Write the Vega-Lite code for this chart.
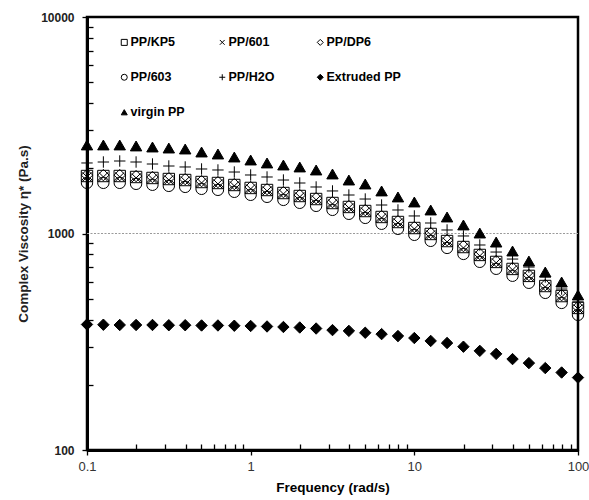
{
  "$schema": "https://vega.github.io/schema/vega-lite/v6.json",
  "width": 491,
  "height": 433,
  "autosize": {"type": "none"},
  "padding": {"left": 87, "top": 17, "right": 11, "bottom": 50},
  "background": "white",
  "config": {
    "view": {"stroke": "black", "strokeWidth": 2.5},
    "font": "Liberation Sans"
  },
  "layer": [
    {
      "data": {"values": [{"a": 0.1, "b": 100, "g": 1000}]},
      "mark": {"type": "rule", "color": "#9a9a9a", "strokeDash": [2, 1.5], "strokeWidth": 1.2},
      "encoding": {
        "x": {"field": "a", "type": "quantitative", "scale": {"type": "log", "domain": [0.1, 100]}},
        "x2": {"field": "b"},
        "y": {"field": "g", "type": "quantitative", "scale": {"type": "log", "domain": [100, 10000]}}
      }
    },
    {
      "data": {"values": [
        {"f":0.1,"s":"virgin PP","v":2564},{"f":0.1259,"s":"virgin PP","v":2564},{"f":0.1585,"s":"virgin PP","v":2564},{"f":0.1995,"s":"virgin PP","v":2537},{"f":0.2512,"s":"virgin PP","v":2509},{"f":0.3162,"s":"virgin PP","v":2482},{"f":0.3981,"s":"virgin PP","v":2456},{"f":0.5012,"s":"virgin PP","v":2379},{"f":0.631,"s":"virgin PP","v":2329},{"f":0.7943,"s":"virgin PP","v":2256},{"f":1,"s":"virgin PP","v":2185},{"f":1.259,"s":"virgin PP","v":2117},{"f":1.585,"s":"virgin PP","v":2072},{"f":1.995,"s":"virgin PP","v":2029},{"f":2.512,"s":"virgin PP","v":1965},{"f":3.162,"s":"virgin PP","v":1883},{"f":3.981,"s":"virgin PP","v":1766},{"f":5.012,"s":"virgin PP","v":1693},{"f":6.31,"s":"virgin PP","v":1572},{"f":7.943,"s":"virgin PP","v":1475},{"f":10,"s":"virgin PP","v":1398},{"f":12.59,"s":"virgin PP","v":1284},{"f":15.85,"s":"virgin PP","v":1192},{"f":19.95,"s":"virgin PP","v":1095},{"f":25.12,"s":"virgin PP","v":1005},{"f":31.62,"s":"virgin PP","v":913},{"f":39.81,"s":"virgin PP","v":830},{"f":50.12,"s":"virgin PP","v":746},{"f":63.1,"s":"virgin PP","v":664},{"f":79.43,"s":"virgin PP","v":597},{"f":100,"s":"virgin PP","v":520},
        {"f":0.1,"s":"PP/H2O","v":2117},{"f":0.1259,"s":"PP/H2O","v":2139},{"f":0.1585,"s":"PP/H2O","v":2162},{"f":0.1995,"s":"PP/H2O","v":2139},{"f":0.2512,"s":"PP/H2O","v":2094},{"f":0.3162,"s":"PP/H2O","v":2050},{"f":0.3981,"s":"PP/H2O","v":2029},{"f":0.5012,"s":"PP/H2O","v":1986},{"f":0.631,"s":"PP/H2O","v":1965},{"f":0.7943,"s":"PP/H2O","v":1923},{"f":1,"s":"PP/H2O","v":1863},{"f":1.259,"s":"PP/H2O","v":1824},{"f":1.585,"s":"PP/H2O","v":1766},{"f":1.995,"s":"PP/H2O","v":1711},{"f":2.512,"s":"PP/H2O","v":1640},{"f":3.162,"s":"PP/H2O","v":1572},{"f":3.981,"s":"PP/H2O","v":1506},{"f":5.012,"s":"PP/H2O","v":1443},{"f":6.31,"s":"PP/H2O","v":1354},{"f":7.943,"s":"PP/H2O","v":1284},{"f":10,"s":"PP/H2O","v":1205},{"f":12.59,"s":"PP/H2O","v":1118},{"f":15.85,"s":"PP/H2O","v":1038},{"f":19.95,"s":"PP/H2O","v":974},{"f":25.12,"s":"PP/H2O","v":885},{"f":31.62,"s":"PP/H2O","v":821},{"f":39.81,"s":"PP/H2O","v":762},{"f":50.12,"s":"PP/H2O","v":700},{"f":63.1,"s":"PP/H2O","v":630},{"f":79.43,"s":"PP/H2O","v":554},{"f":100,"s":"PP/H2O","v":483},
        {"f":0.1,"s":"PP/KP5","v":1843},{"f":0.1259,"s":"PP/KP5","v":1843},{"f":0.1585,"s":"PP/KP5","v":1843},{"f":0.1995,"s":"PP/KP5","v":1824},{"f":0.2512,"s":"PP/KP5","v":1805},{"f":0.3162,"s":"PP/KP5","v":1785},{"f":0.3981,"s":"PP/KP5","v":1766},{"f":0.5012,"s":"PP/KP5","v":1729},{"f":0.631,"s":"PP/KP5","v":1711},{"f":0.7943,"s":"PP/KP5","v":1675},{"f":1,"s":"PP/KP5","v":1623},{"f":1.259,"s":"PP/KP5","v":1588},{"f":1.585,"s":"PP/KP5","v":1538},{"f":1.995,"s":"PP/KP5","v":1490},{"f":2.512,"s":"PP/KP5","v":1443},{"f":3.162,"s":"PP/KP5","v":1383},{"f":3.981,"s":"PP/KP5","v":1326},{"f":5.012,"s":"PP/KP5","v":1270},{"f":6.31,"s":"PP/KP5","v":1192},{"f":7.943,"s":"PP/KP5","v":1130},{"f":10,"s":"PP/KP5","v":1060},{"f":12.59,"s":"PP/KP5","v":995},{"f":15.85,"s":"PP/KP5","v":923},{"f":19.95,"s":"PP/KP5","v":866},{"f":25.12,"s":"PP/KP5","v":796},{"f":31.62,"s":"PP/KP5","v":739},{"f":39.81,"s":"PP/KP5","v":686},{"f":50.12,"s":"PP/KP5","v":637},{"f":63.1,"s":"PP/KP5","v":572},{"f":79.43,"s":"PP/KP5","v":514},{"f":100,"s":"PP/KP5","v":453},
        {"f":0.1,"s":"PP/601","v":1825},{"f":0.1259,"s":"PP/601","v":1825},{"f":0.1585,"s":"PP/601","v":1825},{"f":0.1995,"s":"PP/601","v":1806},{"f":0.2512,"s":"PP/601","v":1787},{"f":0.3162,"s":"PP/601","v":1767},{"f":0.3981,"s":"PP/601","v":1748},{"f":0.5012,"s":"PP/601","v":1712},{"f":0.631,"s":"PP/601","v":1694},{"f":0.7943,"s":"PP/601","v":1658},{"f":1,"s":"PP/601","v":1607},{"f":1.259,"s":"PP/601","v":1572},{"f":1.585,"s":"PP/601","v":1523},{"f":1.995,"s":"PP/601","v":1475},{"f":2.512,"s":"PP/601","v":1429},{"f":3.162,"s":"PP/601","v":1369},{"f":3.981,"s":"PP/601","v":1313},{"f":5.012,"s":"PP/601","v":1257},{"f":6.31,"s":"PP/601","v":1180},{"f":7.943,"s":"PP/601","v":1119},{"f":10,"s":"PP/601","v":1049},{"f":12.59,"s":"PP/601","v":985},{"f":15.85,"s":"PP/601","v":914},{"f":19.95,"s":"PP/601","v":857},{"f":25.12,"s":"PP/601","v":788},{"f":31.62,"s":"PP/601","v":732},{"f":39.81,"s":"PP/601","v":679},{"f":50.12,"s":"PP/601","v":631},{"f":63.1,"s":"PP/601","v":566},{"f":79.43,"s":"PP/601","v":509},{"f":100,"s":"PP/601","v":448},
        {"f":0.1,"s":"PP/DP6","v":1861},{"f":0.1259,"s":"PP/DP6","v":1861},{"f":0.1585,"s":"PP/DP6","v":1861},{"f":0.1995,"s":"PP/DP6","v":1842},{"f":0.2512,"s":"PP/DP6","v":1823},{"f":0.3162,"s":"PP/DP6","v":1803},{"f":0.3981,"s":"PP/DP6","v":1784},{"f":0.5012,"s":"PP/DP6","v":1746},{"f":0.631,"s":"PP/DP6","v":1728},{"f":0.7943,"s":"PP/DP6","v":1692},{"f":1,"s":"PP/DP6","v":1639},{"f":1.259,"s":"PP/DP6","v":1604},{"f":1.585,"s":"PP/DP6","v":1553},{"f":1.995,"s":"PP/DP6","v":1505},{"f":2.512,"s":"PP/DP6","v":1457},{"f":3.162,"s":"PP/DP6","v":1397},{"f":3.981,"s":"PP/DP6","v":1339},{"f":5.012,"s":"PP/DP6","v":1283},{"f":6.31,"s":"PP/DP6","v":1204},{"f":7.943,"s":"PP/DP6","v":1141},{"f":10,"s":"PP/DP6","v":1071},{"f":12.59,"s":"PP/DP6","v":1005},{"f":15.85,"s":"PP/DP6","v":932},{"f":19.95,"s":"PP/DP6","v":875},{"f":25.12,"s":"PP/DP6","v":804},{"f":31.62,"s":"PP/DP6","v":746},{"f":39.81,"s":"PP/DP6","v":693},{"f":50.12,"s":"PP/DP6","v":643},{"f":63.1,"s":"PP/DP6","v":578},{"f":79.43,"s":"PP/DP6","v":519},{"f":100,"s":"PP/DP6","v":458},
        {"f":0.1,"s":"PP/603","v":1714},{"f":0.1259,"s":"PP/603","v":1714},{"f":0.1585,"s":"PP/603","v":1714},{"f":0.1995,"s":"PP/603","v":1696},{"f":0.2512,"s":"PP/603","v":1679},{"f":0.3162,"s":"PP/603","v":1660},{"f":0.3981,"s":"PP/603","v":1642},{"f":0.5012,"s":"PP/603","v":1608},{"f":0.631,"s":"PP/603","v":1591},{"f":0.7943,"s":"PP/603","v":1558},{"f":1,"s":"PP/603","v":1509},{"f":1.259,"s":"PP/603","v":1477},{"f":1.585,"s":"PP/603","v":1430},{"f":1.995,"s":"PP/603","v":1386},{"f":2.512,"s":"PP/603","v":1342},{"f":3.162,"s":"PP/603","v":1286},{"f":3.981,"s":"PP/603","v":1233},{"f":5.012,"s":"PP/603","v":1181},{"f":6.31,"s":"PP/603","v":1109},{"f":7.943,"s":"PP/603","v":1051},{"f":10,"s":"PP/603","v":986},{"f":12.59,"s":"PP/603","v":925},{"f":15.85,"s":"PP/603","v":858},{"f":19.95,"s":"PP/603","v":805},{"f":25.12,"s":"PP/603","v":740},{"f":31.62,"s":"PP/603","v":687},{"f":39.81,"s":"PP/603","v":638},{"f":50.12,"s":"PP/603","v":592},{"f":63.1,"s":"PP/603","v":532},{"f":79.43,"s":"PP/603","v":478},{"f":100,"s":"PP/603","v":421},
        {"f":0.1,"s":"Extruded PP","v":380},{"f":0.1259,"s":"Extruded PP","v":379},{"f":0.1585,"s":"Extruded PP","v":378},{"f":0.1995,"s":"Extruded PP","v":378},{"f":0.2512,"s":"Extruded PP","v":378},{"f":0.3162,"s":"Extruded PP","v":377},{"f":0.3981,"s":"Extruded PP","v":377},{"f":0.5012,"s":"Extruded PP","v":376},{"f":0.631,"s":"Extruded PP","v":376},{"f":0.7943,"s":"Extruded PP","v":375},{"f":1,"s":"Extruded PP","v":374},{"f":1.259,"s":"Extruded PP","v":372},{"f":1.585,"s":"Extruded PP","v":370},{"f":1.995,"s":"Extruded PP","v":368},{"f":2.512,"s":"Extruded PP","v":364},{"f":3.162,"s":"Extruded PP","v":358},{"f":3.981,"s":"Extruded PP","v":355},{"f":5.012,"s":"Extruded PP","v":348},{"f":6.31,"s":"Extruded PP","v":343},{"f":7.943,"s":"Extruded PP","v":336},{"f":10,"s":"Extruded PP","v":329},{"f":12.59,"s":"Extruded PP","v":319},{"f":15.85,"s":"Extruded PP","v":312},{"f":19.95,"s":"Extruded PP","v":300},{"f":25.12,"s":"Extruded PP","v":287},{"f":31.62,"s":"Extruded PP","v":278},{"f":39.81,"s":"Extruded PP","v":263},{"f":50.12,"s":"Extruded PP","v":252},{"f":63.1,"s":"Extruded PP","v":239},{"f":79.43,"s":"Extruded PP","v":228},{"f":100,"s":"Extruded PP","v":216}
      ]},
      "mark": {"type": "point", "filled": true, "opacity": 1, "strokeWidth": 1, "size": 130},
      "encoding": {
        "x": {"field": "f", "type": "quantitative", "scale": {"type": "log", "domain": [0.1, 100]},
          "axis": {"values": [0.1,0.2,0.3,0.4,0.5,0.6,0.7,0.8,0.9,1,2,3,4,5,6,7,8,9,10,20,30,40,50,60,70,80,90,100],
            "labelExpr": "(datum.value==0.1||datum.value==1||datum.value==10||datum.value==100) ? datum.label : ''",
            "format": "~g", "orient": "bottom", "labelFlush": false, "labelOverlap": false, "labelFontSize": 13, "labelColor": "#333", "labelPadding": 5,
            "tickSize": {"condition": {"test": "datum.value==0.1||datum.value==1||datum.value==10||datum.value==100", "value": 5}, "value": -6},
            "tickColor": "black", "tickWidth": 1.3, "domainColor": "black", "domainWidth": 3, "grid": false, "title": "Frequency (rad/s)", "titleFontSize": 13.5, "titleFontWeight": "bold", "titleColor": "black", "titlePadding": 7}},
        "y": {"field": "v", "type": "quantitative", "scale": {"type": "log", "domain": [100, 10000]},
          "axis": {"values": [100,200,300,400,500,600,700,800,900,1000,2000,3000,4000,5000,6000,7000,8000,9000,10000],
            "labelExpr": "(datum.value==100||datum.value==1000||datum.value==10000) ? datum.label : ''",
            "format": "d", "orient": "left", "labelOverlap": false, "labelFlush": false, "labelFontSize": 12, "labelFontWeight": "bold", "labelColor": "#222", "labelPadding": 8,
            "tickSize": {"condition": {"test": "datum.value==100||datum.value==1000||datum.value==10000", "value": 5}, "value": -6},
            "tickColor": "black", "tickWidth": 1.3, "domainColor": "black", "domainWidth": 3, "grid": false, "title": "Complex Viscosity η* (Pa.s)", "titleFontSize": 13.5, "titleFontWeight": "bold", "titleColor": "#222", "titlePadding": 10}},
        "shape": {"field": "s", "type": "nominal",
          "scale": {"domain": ["PP/KP5", "PP/601", "PP/DP6", "PP/603", "PP/H2O", "Extruded PP", "virgin PP"],
            "range": ["square", "M-0.8,-0.8L0.8,0.8M-0.8,0.8L0.8,-0.8", "diamond", "circle", "M-1,0L1,0M0,-1L0,1", "diamond", "triangle-up"]},
          "legend": {"orient": "none", "direction": "horizontal", "legendX": 31, "legendY": 19, "columns": 3, "title": null, "gridAlign": "all", "columnPadding": 11, "rowPadding": 22, "padding": 0, "symbolSize": 36, "symbolStrokeWidth": 1, "labelFont": "Liberation Sans", "labelFontSize": 12.5, "labelFontWeight": "bold", "labelColor": "black", "labelOffset": 0}},
        "fill": {"field": "s", "type": "nominal",
          "scale": {"domain": ["PP/KP5", "PP/601", "PP/DP6", "PP/603", "PP/H2O", "Extruded PP", "virgin PP"],
            "range": ["transparent", "transparent", "transparent", "transparent", "transparent", "black", "black"]},
          "legend": {"orient": "none", "direction": "horizontal", "legendX": 31, "legendY": 19, "columns": 3, "title": null, "gridAlign": "all", "columnPadding": 11, "rowPadding": 22, "padding": 0, "symbolSize": 36, "symbolStrokeWidth": 1, "labelFont": "Liberation Sans", "labelFontSize": 12.5, "labelFontWeight": "bold", "labelColor": "black", "labelOffset": 0}},
        "stroke": {"field": "s", "type": "nominal",
          "scale": {"domain": ["PP/KP5", "PP/601", "PP/DP6", "PP/603", "PP/H2O", "Extruded PP", "virgin PP"],
            "range": ["black", "black", "black", "black", "black", "black", "black"]},
          "legend": {"orient": "none", "direction": "horizontal", "legendX": 31, "legendY": 19, "columns": 3, "title": null, "gridAlign": "all", "columnPadding": 11, "rowPadding": 22, "padding": 0, "symbolSize": 36, "symbolStrokeWidth": 1, "labelFont": "Liberation Sans", "labelFontSize": 12.5, "labelFontWeight": "bold", "labelColor": "black", "labelOffset": 0}}
      }
    }
  ]
}
